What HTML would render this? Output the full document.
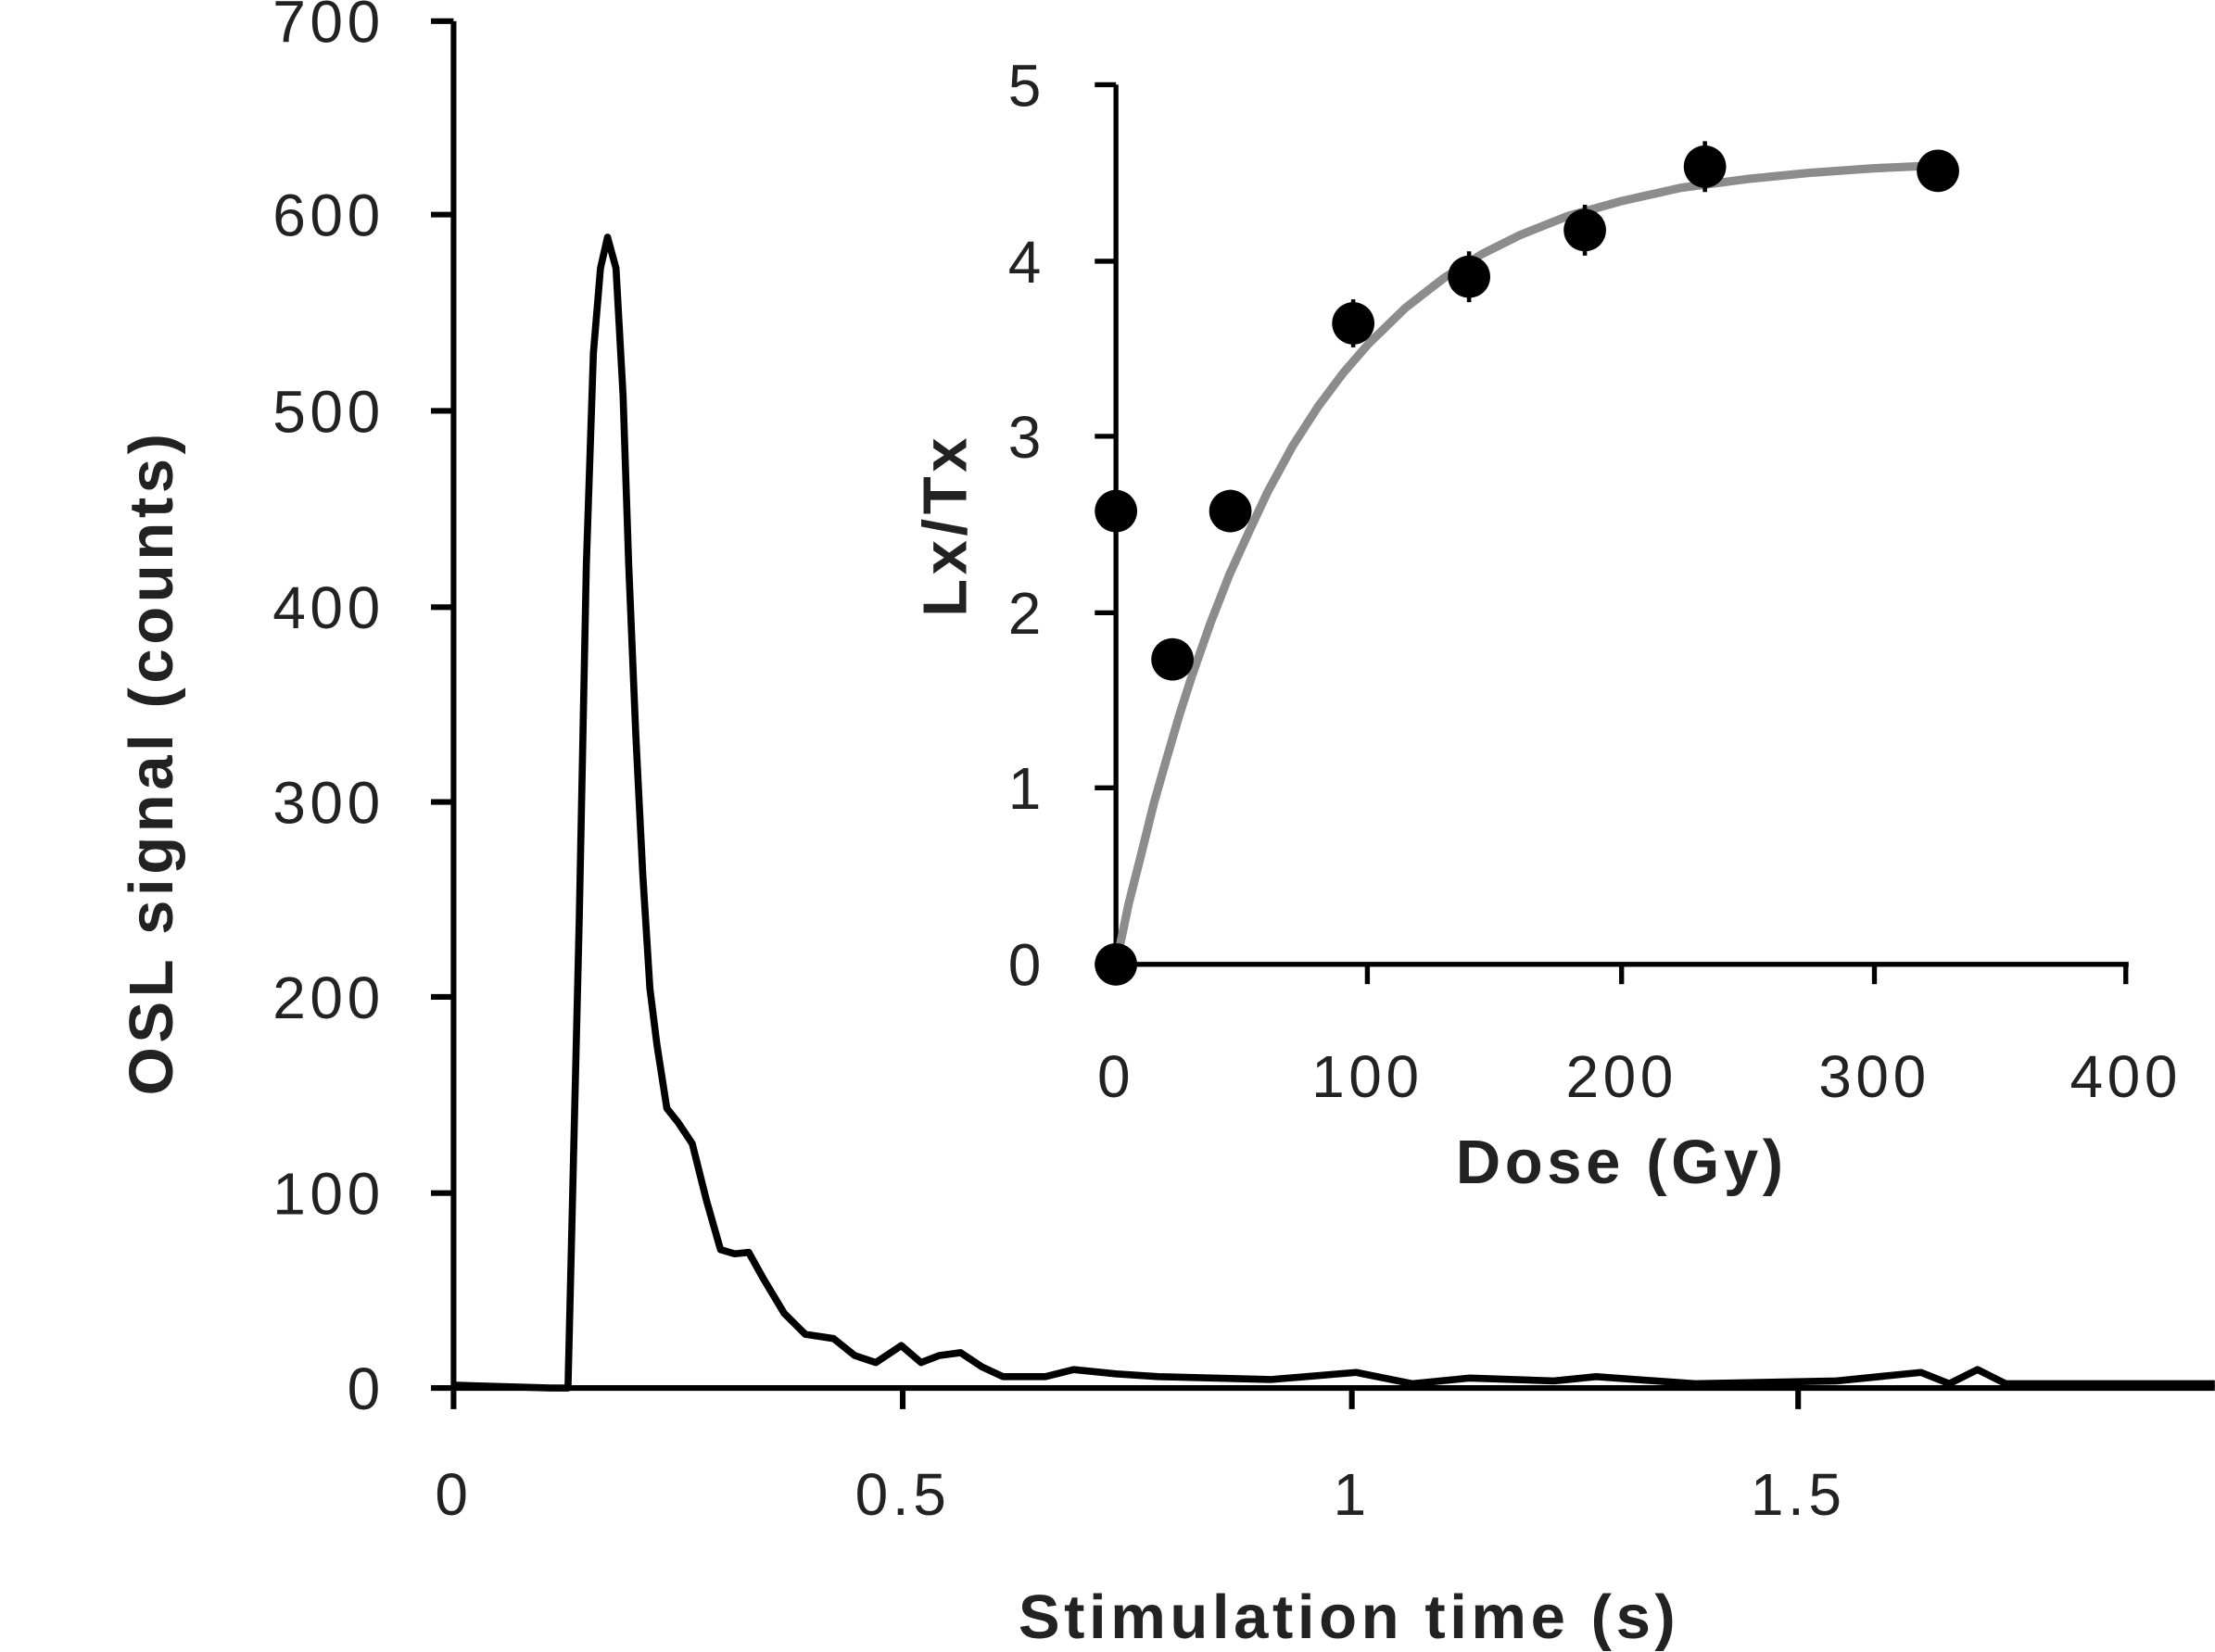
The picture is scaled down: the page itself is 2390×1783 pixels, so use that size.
<!DOCTYPE html>
<html><head><meta charset="utf-8"><style>
html,body{margin:0;padding:0;background:#fff;}
svg{display:block}
text{font-family:"Liberation Sans","DejaVu Sans",sans-serif;fill:#222}
.t{font-size:42px;letter-spacing:3px}
.b{font-size:44px;font-weight:bold;letter-spacing:3px}
</style></head><body>
<svg width="2390" height="1783" viewBox="0 0 1568 1170" xmlns="http://www.w3.org/2000/svg">
<rect width="1568" height="1170" fill="#fff"/>
<g stroke="#000" stroke-width="4" fill="none">
<line x1="321" y1="15" x2="321" y2="985"/>
<line x1="319" y1="983" x2="1568" y2="983"/>
<line x1="305" y1="15" x2="321" y2="15"/>
<line x1="305" y1="152" x2="321" y2="152"/>
<line x1="305" y1="291" x2="321" y2="291"/>
<line x1="305" y1="430" x2="321" y2="430"/>
<line x1="305" y1="568" x2="321" y2="568"/>
<line x1="305" y1="706" x2="321" y2="706"/>
<line x1="305" y1="845" x2="321" y2="845"/>
<line x1="305" y1="983" x2="321" y2="983"/>
<line x1="321" y1="983" x2="321" y2="998"/>
<line x1="639" y1="983" x2="639" y2="998"/>
<line x1="957" y1="983" x2="957" y2="998"/>
<line x1="1273" y1="983" x2="1273" y2="998"/>
</g>
<g class="t" text-anchor="end">
<text x="272" y="30">700</text>
<text x="272" y="167">600</text>
<text x="272" y="306">500</text>
<text x="272" y="445">400</text>
<text x="272" y="583">300</text>
<text x="272" y="721">200</text>
<text x="272" y="860">100</text>
<text x="272" y="998">0</text>
</g>
<g class="t" text-anchor="middle">
<text x="321" y="1073">0</text>
<text x="639" y="1073">0.5</text>
<text x="957" y="1073">1</text>
<text x="1273" y="1073">1.5</text>
</g>
<text x="955" y="1160" class="b" text-anchor="middle">Stimulation time (s)</text>
<text transform="translate(122,540) rotate(-90)" class="b" text-anchor="middle">OSL signal (counts)</text>
<path fill="none" stroke="#000" stroke-width="5" stroke-linejoin="round" d="M321,981 L390,983 L402,983 L404,900 L410,650 L415,400 L420,250 L425,190 L430,168 L436,190 L441,280 L445,400 L450,520 L455,620 L460,700 L465,740 L472,785 L480,795 L490,810 L500,850 L510,885 L520,888 L530,887 L540,905 L555,930 L570,945 L590,948 L605,960 L620,965 L638,953 L652,965 L665,960 L680,958 L695,968 L710,975 L740,975 L760,970 L790,973 L820,975 L900,977 L960,972 L1000,980 L1040,976 L1100,978 L1130,975 L1200,980 L1300,978 L1360,972 L1380,980 L1400,970 L1420,980 L1568,980"/>
<g stroke="#000" stroke-width="3.5" fill="none">
<line x1="790" y1="60" x2="790" y2="685"/>
<line x1="788" y1="683" x2="1507" y2="683"/>
<line x1="775" y1="60" x2="790" y2="60"/>
<line x1="775" y1="185" x2="790" y2="185"/>
<line x1="775" y1="309" x2="790" y2="309"/>
<line x1="775" y1="434" x2="790" y2="434"/>
<line x1="775" y1="558" x2="790" y2="558"/>
<line x1="775" y1="683" x2="790" y2="683"/>
<line x1="968" y1="683" x2="968" y2="697"/>
<line x1="1148" y1="683" x2="1148" y2="697"/>
<line x1="1327" y1="683" x2="1327" y2="697"/>
<line x1="1505" y1="683" x2="1505" y2="697"/>
</g>
<g class="t" text-anchor="end">
<text x="740" y="75">5</text>
<text x="740" y="200">4</text>
<text x="740" y="324">3</text>
<text x="740" y="449">2</text>
<text x="740" y="573">1</text>
<text x="740" y="698">0</text>
</g>
<g class="t" text-anchor="middle">
<text x="790" y="777">0</text>
<text x="968" y="777">100</text>
<text x="1148" y="777">200</text>
<text x="1327" y="777">300</text>
<text x="1505" y="777">400</text>
</g>
<text x="1148" y="838" class="b" text-anchor="middle">Dose (Gy)</text>
<text transform="translate(684,372) rotate(-90)" class="b" text-anchor="middle">Lx/Tx</text>
<path fill="none" stroke="#8c8c8c" stroke-width="6" stroke-linejoin="round" d="M790,683 L799,640 L807.9,604.9 L816.8,569 L825.8,537.5 L834.7,507 L843.6,479.3 L857,441 L870.4,406.8 L884,377 L897.3,348.6 L915,316 L933,288.1 L951,264 L968.8,243.5 L995,218 L1022.4,196.8 L1049,180 L1076,166.5 L1110,153 L1147.5,142.5 L1190,133 L1236.9,126.8 L1280,122.5 L1326.3,119.2 L1380,116.8"/>
<g stroke="#000" stroke-width="3">
<line x1="830" y1="452" x2="830" y2="482"/><line x1="871" y1="347" x2="871" y2="377"/>
<line x1="958" y1="212" x2="958" y2="246"/><line x1="1040" y1="178" x2="1040" y2="214"/>
<line x1="1122" y1="145" x2="1122" y2="181"/><line x1="1207" y1="100" x2="1207" y2="136"/>
</g>
<g fill="#000">
<circle cx="790" cy="362" r="15"/><circle cx="790" cy="683" r="15"/>
<circle cx="830" cy="467" r="15"/><circle cx="871" cy="362" r="15"/>
<circle cx="958" cy="229" r="15"/><circle cx="1040" cy="196" r="15"/>
<circle cx="1122" cy="163" r="15"/><circle cx="1207" cy="118" r="15"/>
<circle cx="1372" cy="121" r="15"/>
</g>
</svg>
</body></html>
